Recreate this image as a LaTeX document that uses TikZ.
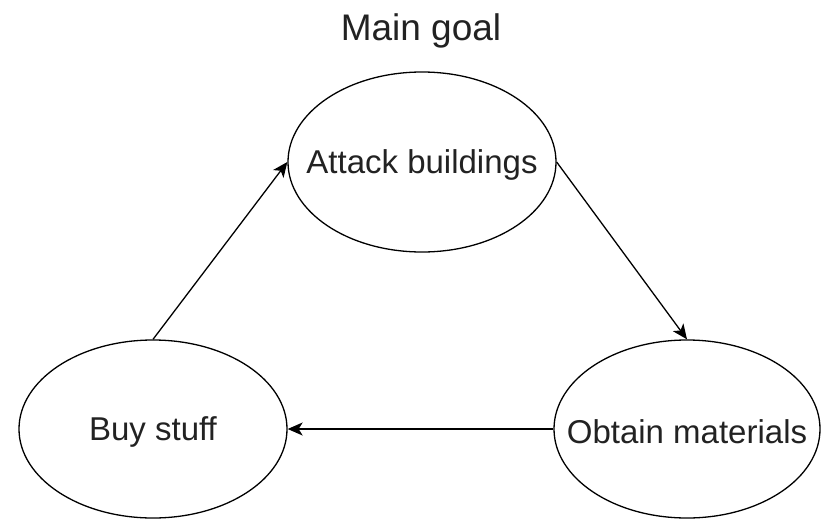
\documentclass[tikz,border=0pt]{standalone}
\usepackage{fontspec}
\setmainfont{Liberation Sans}
\usetikzlibrary{arrows.meta,shapes.geometric}
\definecolor{txt}{HTML}{222222}
\tikzset{
  x=1pt, y=-1pt,
  goal/.style={draw=black, line width=1.3pt, ellipse, inner sep=0pt, minimum width=268pt, minimum height=178pt},
  goaltext/.style={text=txt, font=\fontsize{33}{38}\selectfont, yshift=-3pt},
  flow/.style={draw=black, line width=1.3pt, -{Stealth[length=15pt, width=13pt, inset=4pt]}}
}
\begin{document}
\begin{tikzpicture}
\useasboundingbox (0,0) rectangle (829,519);
\node[text=txt, font=\fontsize{37}{42}\selectfont] (title) at (421,31) {Main goal};
\node[goal, minimum height=180pt, label={[goaltext]center:Attack buildings}] (attack) at (422,162) {};
\node[goal, label={[goaltext]center:Buy stuff}] (buy) at (153,429) {};
\node[goal, minimum width=266pt, label={[goaltext]center:Obtain materials}] (obtain) at (687,429) {};
\draw[flow] (buy.north) -- (attack.west);
\draw[flow] (attack.east) -- (obtain.north);
\draw[flow] (obtain.west) -- (buy.east);
\end{tikzpicture}
\end{document}
